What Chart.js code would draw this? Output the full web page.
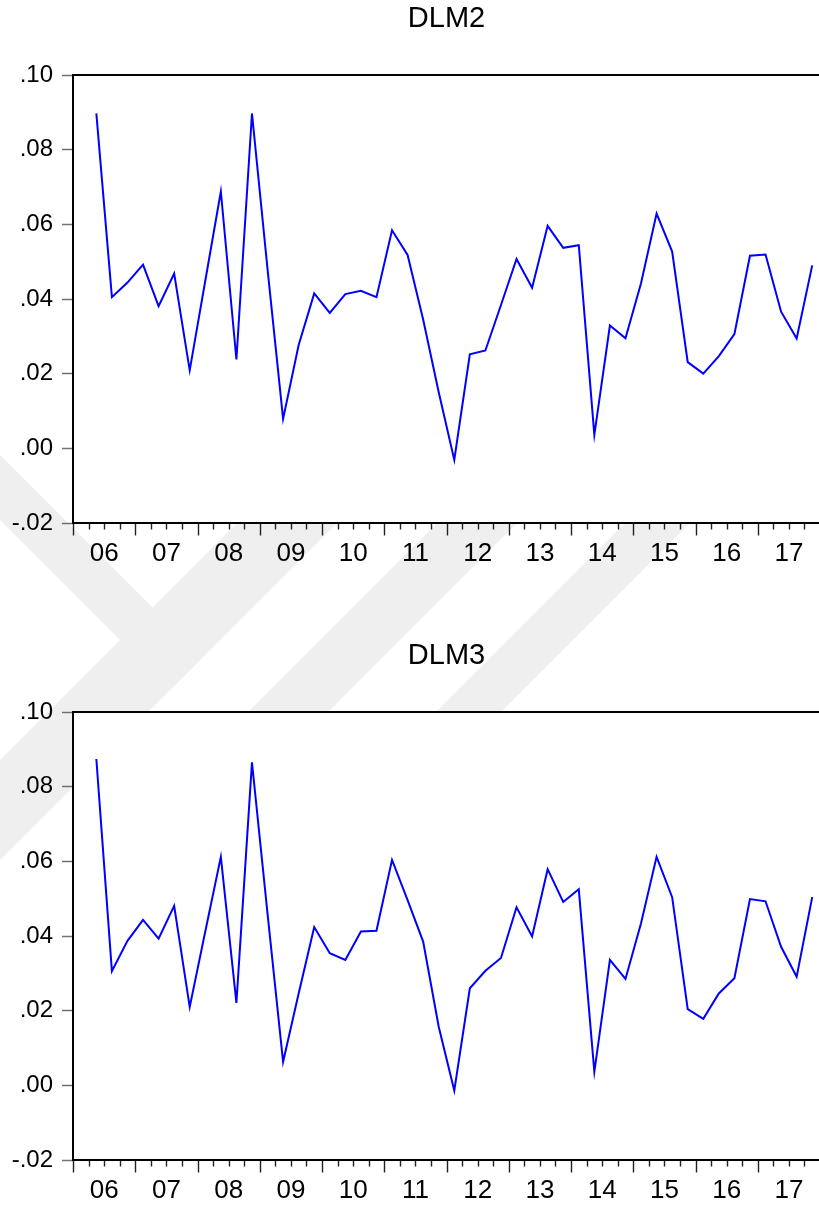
<!DOCTYPE html>
<html>
<head>
<meta charset="utf-8">
<script src="https://cdn.jsdelivr.net/npm/chart.js@4.4.1/dist/chart.umd.min.js"></script>
<style>
  html, body { margin: 0; padding: 0; background: #ffffff; overflow: hidden; }
  body { width: 819px; height: 1208px; position: relative; }
  #bg { position: absolute; left: 0; top: 0; }
  .panel { position: absolute; left: 0; width: 820px; height: 600px; }
  #p1 { top: 0; }
  #p2 { top: 637px; }
</style>
</head>
<body>
<canvas id="bg" width="819" height="1208"></canvas>
<div class="panel" id="p1"><canvas id="c1" width="820" height="600"></canvas></div>
<div class="panel" id="p2"><canvas id="c2" width="820" height="600"></canvas></div>
<script>
// Quarterly observations, 2006Q2 .. 2017Q4
const periods = [
  '2006Q2','2006Q3','2006Q4',
  '2007Q1','2007Q2','2007Q3','2007Q4',
  '2008Q1','2008Q2','2008Q3','2008Q4',
  '2009Q1','2009Q2','2009Q3','2009Q4',
  '2010Q1','2010Q2','2010Q3','2010Q4',
  '2011Q1','2011Q2','2011Q3','2011Q4',
  '2012Q1','2012Q2','2012Q3','2012Q4',
  '2013Q1','2013Q2','2013Q3','2013Q4',
  '2014Q1','2014Q2','2014Q3','2014Q4',
  '2015Q1','2015Q2','2015Q3','2015Q4',
  '2016Q1','2016Q2','2016Q3','2016Q4',
  '2017Q1','2017Q2','2017Q3','2017Q4'
];

const dlm2 = [
  0.0897, 0.0405, 0.0444, 0.0492, 0.0381, 0.0468, 0.0209, 0.0449, 0.0688, 0.0238,
  0.0897, 0.0480, 0.0079, 0.0277, 0.0415, 0.0363, 0.0413, 0.0422, 0.0405, 0.0584,
  0.0518, 0.0345, 0.0150, -0.0031, 0.0252, 0.0262, 0.0384, 0.0507, 0.0430, 0.0596,
  0.0537, 0.0544, 0.0036, 0.0329, 0.0295, 0.0442, 0.0629, 0.0527, 0.0231, 0.0200,
  0.0247, 0.0306, 0.0516, 0.0519, 0.0366, 0.0294, 0.0490
];

const dlm3 = [
  0.0874, 0.0306, 0.0387, 0.0443, 0.0393, 0.0481, 0.0210, 0.0412, 0.0612, 0.0221,
  0.0865, 0.0460, 0.0063, 0.0246, 0.0424, 0.0354, 0.0336, 0.0412, 0.0414, 0.0604,
  0.0496, 0.0385, 0.0157, -0.0014, 0.0260, 0.0307, 0.0341, 0.0477, 0.0399, 0.0579,
  0.0491, 0.0525, 0.0036, 0.0336, 0.0285, 0.0434, 0.0612, 0.0504, 0.0204, 0.0178,
  0.0246, 0.0287, 0.0499, 0.0493, 0.0371, 0.0291, 0.0504
];

const yearLabels = ['06','07','08','09','10','11','12','13','14','15','16','17'];
const yTickValues = [0.10, 0.08, 0.06, 0.04, 0.02, 0.00, -0.02];

const FONT = "'Liberation Sans', Arial, sans-serif";
const X_MIN = 2006, X_MAX = 2018;

// faint diagonal page watermark behind the two graphs
(function drawWatermark() {
  const ctx = document.getElementById('bg').getContext('2d');
  ctx.fillStyle = '#efefef';
  // rising bands: x + y between s0 and s1, kept between y0 and y1
  const rising = [[760, 860, 440, 900], [960, 1040, 440, 760], [1148, 1213, 440, 760]];
  rising.forEach(([s0, s1, y0, y1]) => {
    ctx.beginPath();
    ctx.moveTo(s0 - y1, y1);
    ctx.lineTo(s1 - y1, y1);
    ctx.lineTo(s1 - y0, y0);
    ctx.lineTo(s0 - y0, y0);
    ctx.closePath();
    ctx.fill();
  });
  // falling band on the left: y - x between d0 and d1, ending where it
  // meets the first rising band (x + y = 860)
  const d0 = 455, d1 = 520, s = 860;
  ctx.beginPath();
  ctx.moveTo(0, d0);
  ctx.lineTo((s - d0) / 2, (s + d0) / 2);
  ctx.lineTo((s - d1) / 2, (s + d1) / 2);
  ctx.lineTo(0, d1);
  ctx.closePath();
  ctx.fill();
})();

// each quarter is plotted at the middle of its interval
function periodToX(p) {
  const y = parseInt(p.slice(0, 4), 10);
  const q = parseInt(p.slice(5), 10);
  return y + (q - 1) / 4 + 0.125;
}

function yLabel(v) {
  const s = Math.abs(v).toFixed(2).replace(/^0/, '');
  return v < -1e-9 ? '-' + s : s;
}

// white plot area, centred title, black frame and quarterly tick marks
const framePlugin = {
  id: 'frame',
  beforeDraw(chart) {
    const a = chart.chartArea, ctx = chart.ctx;
    ctx.save();
    ctx.fillStyle = '#ffffff';
    ctx.fillRect(a.left, a.top, a.right - a.left, a.bottom - a.top);
    ctx.restore();
  },
  afterDraw(chart, args, opts) {
    const a = chart.chartArea, ctx = chart.ctx, xs = chart.scales.x;
    ctx.save();
    ctx.fillStyle = '#000000';
    ctx.font = '29px ' + FONT;
    ctx.textAlign = 'center';
    ctx.textBaseline = 'middle';
    ctx.fillText(opts.title, (a.left + a.right) / 2, 19);

    ctx.strokeStyle = '#222222';
    ctx.lineWidth = 1.4;
    for (let k = 0; k <= (X_MAX - X_MIN) * 4; k++) {
      const v = X_MIN + k / 4;
      const px = Math.round(xs.getPixelForValue(v)) + 0.5;
      const len = (k % 4 === 0) ? 12.5 : 6.5;
      ctx.beginPath();
      ctx.moveTo(px, a.bottom);
      ctx.lineTo(px, a.bottom + len);
      ctx.stroke();
    }
    ctx.strokeStyle = '#000000';
    ctx.lineWidth = 2;
    ctx.beginPath();
    ctx.moveTo(a.left, a.bottom);
    ctx.lineTo(a.left, a.top);
    ctx.lineTo(a.right, a.top);
    ctx.lineTo(a.right, a.bottom);
    ctx.closePath();
    ctx.stroke();
    ctx.restore();
  }
};

function makeChart(id, title, values) {
  const pts = periods.map((p, i) => ({ x: periodToX(p), y: values[i] }));
  return new Chart(document.getElementById(id), {
    type: 'line',
    data: {
      datasets: [{
        label: title,
        data: pts,
        borderColor: '#0000ff',
        borderWidth: 2,
        pointRadius: 0,
        tension: 0,
        fill: false
      }]
    },
    options: {
      responsive: false,
      animation: false,
      events: [],
      layout: { padding: { left: 0, right: 0, top: 75, bottom: 0 } },
      plugins: {
        legend: { display: false },
        tooltip: { enabled: false },
        title: { display: false },
        frame: { title: title }
      },
      scales: {
        x: {
          type: 'linear',
          min: X_MIN,
          max: X_MAX,
          afterBuildTicks(scale) {
            scale.ticks = yearLabels.map((_, i) => ({ value: X_MIN + i + 0.5 }));
          },
          afterFit(scale) { scale.height = 77; },
          ticks: {
            autoSkip: false,
            maxRotation: 0,
            padding: 15,
            color: '#000000',
            font: { family: FONT, size: 26 },
            callback: (v, i) => yearLabels[i]
          },
          grid: { display: false, drawTicks: false },
          border: { display: false }
        },
        y: {
          type: 'linear',
          min: -0.02,
          max: 0.10,
          afterBuildTicks(scale) {
            scale.ticks = yTickValues.map(v => ({ value: v }));
          },
          afterFit(scale) { scale.width = 73; },
          ticks: {
            padding: 9,
            color: '#000000',
            font: { family: FONT, size: 24 },
            callback: v => yLabel(v)
          },
          grid: {
            drawOnChartArea: false,
            drawTicks: true,
            tickLength: 11,
            tickColor: '#707070',
            tickWidth: 1.5
          },
          border: { display: false }
        }
      }
    },
    plugins: [framePlugin]
  });
}

makeChart('c1', 'DLM2', dlm2);
makeChart('c2', 'DLM3', dlm3);
</script>
</body>
</html>
